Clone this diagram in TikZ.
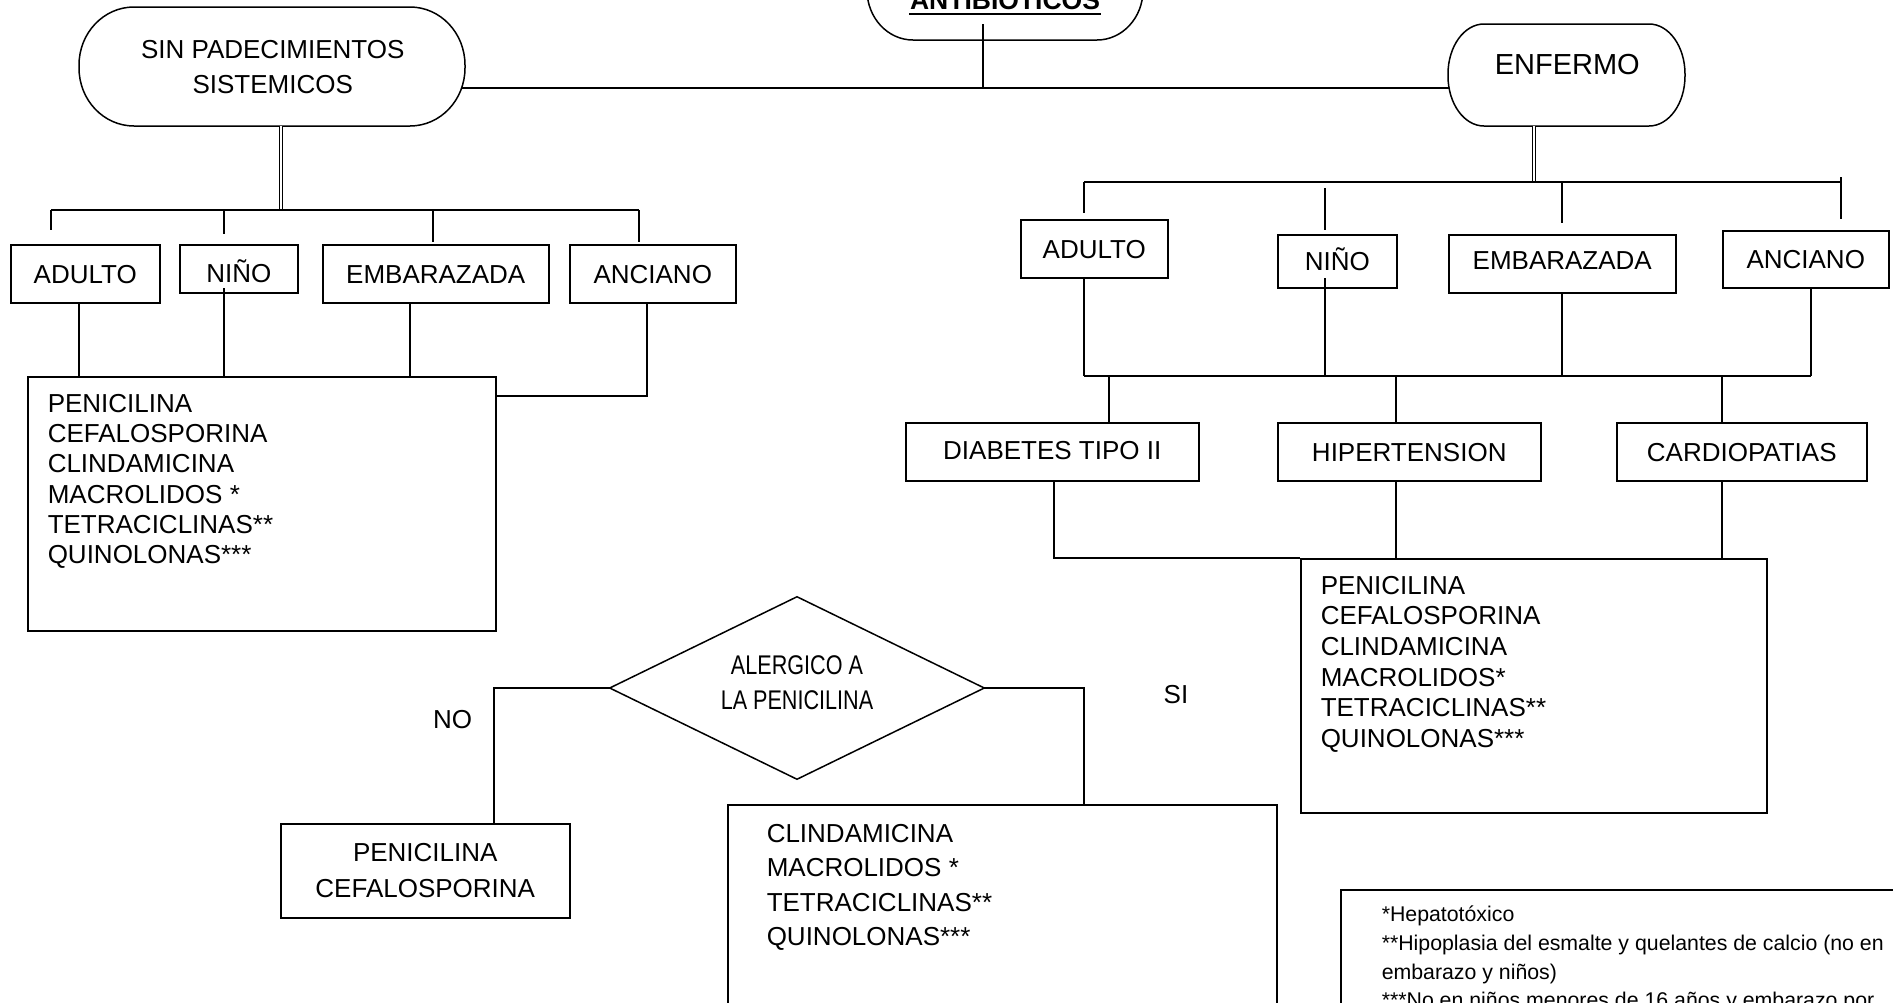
\documentclass[tikz,border=0pt]{standalone}
\usepackage{fontspec}
\setmainfont{Liberation Sans}
\newfontfamily\narrowfont{Liberation Sans}[FakeStretch=0.8]
\usetikzlibrary{calc}
\newcommand\stadiumline[6]{%
  \draw[line width=1.5pt] (#1+#5,#2) -- (#3-#5,#2)
    arc[start angle=270,end angle=360,x radius=#5,y radius=#6] -- (#3,#4-#6)
    arc[start angle=0,end angle=90,x radius=#5,y radius=#6] -- (#1+#5,#4)
    arc[start angle=90,end angle=180,x radius=#5,y radius=#6] -- (#1,#2+#6)
    arc[start angle=180,end angle=270,x radius=#5,y radius=#6] -- cycle;}
\begin{document}
\begin{tikzpicture}[x=1pt,y=-1pt,line width=1.5pt,
  box/.style={draw,line width=1.5pt,inner sep=0pt,anchor=north west,
    font=\fontsize{26}{30}\selectfont,text height=18.6pt,text depth=0pt},
  listbox/.style={draw,line width=1.5pt,inner sep=0pt,anchor=north west},
  listtext/.style={anchor=north west,inner sep=0pt,align=left},
  lbl/.style={anchor=base,inner sep=0pt,font=\fontsize{26}{30}\selectfont},
  dbl/.style={double,double distance=1.2pt,line width=1pt}]
\useasboundingbox (0,0) rectangle (1893,1002);
\fill[white] (0,0) rectangle (1893,1002);
\clip (0,0) rectangle (1893,1002);

% ---------- top shapes ----------
\node[inner sep=0pt,minimum width=276,minimum height=120,anchor=north west] (antib) at (867,-80) {};
\stadiumline{867}{-80}{1143}{40}{46}{50}
\node[anchor=base,inner sep=0pt,font=\fontsize{26.5}{30}\selectfont\bfseries] (antibt) at (1005,9) {ANTIBIOTICOS};
\draw[line width=2.3pt] ($(antibt.base west)+(0,5)$) -- ($(antibt.base east)+(0,5)$);

\node[inner sep=0pt,minimum width=386,minimum height=119,anchor=north west,
  font=\fontsize{26}{35}\selectfont,align=center] (sin) at (79,7) {SIN PADECIMIENTOS\\SISTEMICOS};
\stadiumline{79}{7}{465}{126}{55}{58}

\node[inner sep=0pt,minimum width=237,minimum height=102,anchor=north west,
  font=\fontsize{29}{33}\selectfont,text height=20.8pt,text depth=0pt] (enf) at (1448,24) {\raisebox{11.4pt}{ENFERMO}};
\stadiumline{1448}{24}{1685}{126}{36}{50}

\coordinate (antibstem) at (983,24);
\coordinate (topj) at (983,88);
\coordinate (sinR) at (462,88);
\coordinate (enfL) at (1449,88);
\draw (antibstem) -- (topj);
\draw (sinR) -- (enfL);

% ---------- left branch ----------
\coordinate (sinS) at (281,126);
\coordinate (lbar) at (281,210);
\draw[dbl] (sinS) -- (lbar);
\draw (51,210) -- (639,210);

\node[box,minimum width=149,minimum height=58] (a1) at (10,244) {ADULTO};
\node[box,minimum width=118,minimum height=48] (n1) at (179,244) {\raisebox{-4.7pt}{NIÑO}};
\node[box,minimum width=226,minimum height=58] (e1) at (322,244) {EMBARAZADA};
\node[box,minimum width=166,minimum height=58] (an1) at (569,244) {ANCIANO};

\draw (51,210) -- (51,230);
\draw (224,210) -- (224,234);
\draw (433,210) -- (433,242);
\draw (639,210) -- (639,242);

\node[listbox,minimum width=468,minimum height=254] (L1) at (27,376) {};
\node[listtext,font=\fontsize{26}{30.3}\selectfont] (l1t) at (47,393.3)
  {PENICILINA\\CEFALOSPORINA\\CLINDAMICINA\\MACROLIDOS *\\TETRACICLINAS**\\QUINOLONAS***};

\draw (a1.south -| 79,0) -- (L1.north -| 79,0);
\draw (224,288) -- (L1.north -| 224,0);
\draw (e1.south -| 410,0) -- (L1.north -| 410,0);
\draw (an1.south -| 647,0) -- (647,396) -- (L1.east |- 0,396);

% ---------- right branch ----------
\coordinate (enfS) at (1534,126);
\coordinate (rbar) at (1534,182);
\draw[dbl] (enfS) -- (rbar);
\draw (1084,182) -- (1841,182);

\node[box,minimum width=147,minimum height=58] (a2) at (1020,219) {ADULTO};
\node[box,minimum width=119,minimum height=53] (n2) at (1277,234) {NIÑO};
\node[box,minimum width=227,minimum height=58] (e2) at (1448,234) {\raisebox{3.3pt}{EMBARAZADA}};
\node[box,minimum width=166,minimum height=57] (an2) at (1722,230) {ANCIANO};

\draw (1084,182) -- (1084,213);
\draw (1325,188) -- (1325,230);
\draw (1562,182) -- (1562,223);
\draw (1841,177) -- (1841,219);

\coordinate (mbar) at (1084,376);
\draw (a2.south -| 1084,0) -- (mbar);
\draw (1325,278) -- (1325,376);
\draw (e2.south -| 1562,0) -- (1562,376);
\draw (an2.south -| 1811,0) -- (1811,376);
\draw (mbar) -- (1811,376);

\node[box,minimum width=293,minimum height=58] (d) at (905,422) {\raisebox{2pt}{DIABETES TIPO II}};
\node[box,minimum width=263,minimum height=58] (h) at (1277,422) {HIPERTENSION};
\node[box,minimum width=250,minimum height=58] (c) at (1616,422) {CARDIOPATIAS};

\draw (1109,376) -- (d.north -| 1109,0);
\draw (1396,376) -- (h.north -| 1396,0);
\draw (1722,376) -- (c.north -| 1722,0);

\node[listbox,minimum width=466,minimum height=254] (L2) at (1300,558) {};
\node[listtext,font=\fontsize{26}{30.6}\selectfont] (l2t) at (1320,575.3)
  {PENICILINA\\CEFALOSPORINA\\CLINDAMICINA\\MACROLIDOS*\\TETRACICLINAS**\\QUINOLONAS***};

\draw (d.south -| 1054,0) -- (1054,558) -- (L2.north west);
\draw (h.south -| 1396,0) -- (L2.north -| 1396,0);
\draw (c.south -| 1722,0) -- (L2.north -| 1722,0);

% ---------- decision ----------
\node[inner sep=0pt,minimum width=373,minimum height=181] (dia) at (797,688) {};
\draw (dia.north) -- (dia.east) -- (dia.south) -- (dia.west) -- cycle;
\node[anchor=north,inner sep=0pt,align=center,font=\narrowfont\fontsize{27}{35}\selectfont] (diat) at (797,654.5)
  {ALERGICO A\\LA PENICILINA};

\node[box,minimum width=289,minimum height=94,text height=,text depth=,align=center,
  font=\fontsize{26}{36}\selectfont] (pc) at (280,823) {PENICILINA\\CEFALOSPORINA};
\node[listbox,minimum width=549,minimum height=300] (L3) at (727,804) {};
\node[listtext,font=\fontsize{26}{34.5}\selectfont] (l3t) at (766,823.3)
  {CLINDAMICINA\\MACROLIDOS *\\TETRACICLINAS**\\QUINOLONAS***};

\draw (dia.west) -- (494,688) -- (pc.north -| 494,0);
\draw (dia.east) -- (1084,688) -- (L3.north -| 1084,0);

\node[lbl] (no) at (452.5,728) {NO};
\node[lbl] (si) at (1176,703) {SI};

% ---------- notes ----------
\node[listbox,minimum width=700,minimum height=200] (foot) at (1340,889) {};
\node[listtext,font=\fontsize{21.3}{28.6}\selectfont] (ft) at (1381,905.5)
  {*Hepatotóxico\\**Hipoplasia del esmalte y quelantes de calcio (no en\\embarazo y niños)\\***No en niños menores de 16 años y embarazo por};
\end{tikzpicture}
\end{document}
